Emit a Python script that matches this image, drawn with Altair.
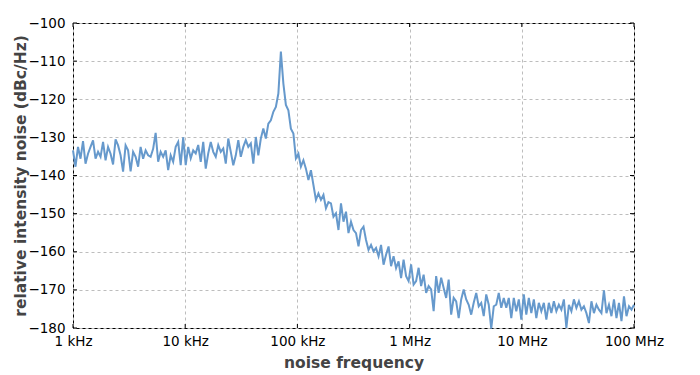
import altair as alt
import numpy as np
import pandas as pd

# relative intensity noise (dBc/Hz), one decade per list
rin_1k_10k = [-133.4, -137.7, -132.5, -135.6, -131.0, -136.9, -134.3, -132.5, -130.8, -135.6,
              -133.8, -135.1, -131.2, -136.0, -132.5, -134.3, -137.1, -130.5, -132.1, -134.7,
              -139.0, -132.1, -133.4, -138.9, -133.8, -135.1, -137.7, -132.5, -135.6, -133.4,
              -134.7, -135.1, -133.0, -128.8, -136.4, -133.8, -135.1, -133.4, -138.6, -134.7,
              -136.4, -132.5, -131.2, -137.3, -130.0]
rin_10k_100k = [-137.3, -132.5, -135.5, -133.4, -134.2, -132.0, -136.4, -131.2, -138.2, -134.2,
                -131.2, -133.8, -135.1, -132.0, -133.8, -132.9, -136.9, -130.3, -133.8, -137.3,
                -134.7, -130.7, -135.1, -132.5, -130.7, -132.5, -131.6, -136.9, -129.9, -134.7,
                -130.3, -127.7, -130.3, -126.4, -125.5, -123.3, -122.0, -118.5, -107.5, -115.9,
                -121.5, -122.9, -127.7, -129.0, -135.5]
rin_100k_1M = [-134.3, -137.7, -136.0, -138.2, -141.2, -138.6, -142.5, -146.4, -144.7, -146.4,
               -145.1, -148.6, -147.0, -147.3, -150.8, -149.9, -154.3, -147.3, -152.1, -149.5,
               -155.1, -152.1, -154.3, -155.1, -158.6, -154.3, -153.4, -156.9, -159.5, -158.2,
               -159.9, -159.0, -161.2, -158.2, -163.4, -160.8, -158.6, -163.8, -161.2, -164.3,
               -162.5, -166.9, -162.1, -166.4, -167.7]
rin_1M_10M = [-163.3, -168.6, -167.7, -164.2, -169.0, -166.0, -170.8, -169.0, -169.9, -175.6,
              -166.4, -170.8, -166.8, -169.5, -172.1, -167.3, -176.5, -172.1, -173.0, -177.4,
              -172.5, -169.9, -172.5, -173.9, -176.5, -173.4, -170.8, -174.3, -173.4, -176.9,
              -171.2, -173.9, -180.2, -174.3, -173.9, -170.8, -174.7, -172.1, -174.7, -172.1,
              -177.4, -172.1, -175.6, -172.5, -177.8]
rin_10M_100M = [-171.2, -176.5, -172.1, -176.1, -172.5, -177.4, -173.4, -175.6, -173.4, -177.8,
                -173.4, -176.1, -173.0, -175.6, -173.9, -175.2, -172.5, -180.0, -173.9, -175.6,
                -172.5, -174.7, -173.0, -175.2, -174.3, -176.1, -178.7, -173.0, -176.1, -173.9,
                -175.2, -176.1, -170.1, -176.1, -173.9, -176.9, -172.5, -177.4, -173.4, -178.2,
                -171.7, -176.9, -174.3, -175.2, -173.9]

rin_dbc = rin_1k_10k + rin_10k_100k + rin_100k_1M + rin_1M_10M + rin_10M_100M
# log-spaced frequency grid of the spectrum analyser, 1 kHz .. 100 MHz
freq_hz = np.logspace(3, 8, len(rin_dbc))

x_ticks = [1e3, 1e4, 1e5, 1e6, 1e7, 1e8]
x_tick_labels = ["1 kHz", "10 kHz", "100 kHz", "1 MHz", "10 MHz", "100 MHz"]
y_ticks = [-180, -170, -160, -150, -140, -130, -120, -110, -100]

df = pd.DataFrame({"freq": freq_hz, "rin": rin_dbc})
xt = pd.DataFrame({"freq": x_ticks})
yt = pd.DataFrame({"rin": y_ticks})

W, H = 561, 305
TL = 4

label_expr = ""
for v, lab in zip(x_ticks, x_tick_labels):
    label_expr += f"abs(datum.value - {v:g}) < {v * 0.01:g} ? '{lab}' : "
label_expr += "''"

xscale = alt.Scale(type="log", domain=[1e3, 1e8], nice=False)
yscale = alt.Scale(domain=[-180, -100], nice=False, zero=False)

grid_col = "#bdbdbd"
title_col = "#444444"

x_axis = alt.Axis(values=x_ticks, labelExpr=label_expr, title="noise frequency",
                  grid=True, gridDash=[3, 3], gridColor=grid_col, gridWidth=1,
                  ticks=False, domain=False, labelPadding=6,
                  labelFlush=False, labelOverlap=False,
                  labelFont="DejaVu Sans", labelFontSize=13.5, labelColor="black",
                  titleFont="DejaVu Sans", titleFontWeight="bold", titleFontSize=15.5,
                  titleColor=title_col,
                  titleX=W / 2, titleY=34, titleBaseline="middle", titleAlign="center")
y_axis = alt.Axis(values=y_ticks, format="d", title="relative intensity noise (dBc/Hz)",
                  grid=True, gridDash=[3, 3], gridColor=grid_col, gridWidth=1,
                  ticks=False, domain=False, labelPadding=8,
                  labelFlush=False, labelOverlap=False,
                  labelFont="DejaVu Sans", labelFontSize=13.5, labelColor="black",
                  titleFont="DejaVu Sans", titleFontWeight="bold", titleFontSize=15.5,
                  titleColor=title_col,
                  titleAngle=270, titleX=-53, titleY=H / 2,
                  titleBaseline="middle", titleAlign="center")

line = alt.Chart(df).mark_line(color="#6699cc", strokeWidth=2, clip=False).encode(
    x=alt.X("freq:Q", scale=xscale, axis=x_axis),
    y=alt.Y("rin:Q", scale=yscale, axis=y_axis),
)

left_ticks = alt.Chart(yt).mark_rule(color="black", strokeWidth=1).encode(
    y=alt.Y("rin:Q", scale=yscale, axis=y_axis), x=alt.value(0), x2=alt.value(TL))
right_ticks = alt.Chart(yt).mark_rule(color="black", strokeWidth=1).encode(
    y=alt.Y("rin:Q", scale=yscale, axis=y_axis), x=alt.value(W - TL), x2=alt.value(W))
top_ticks = alt.Chart(xt).mark_rule(color="black", strokeWidth=1).encode(
    x=alt.X("freq:Q", scale=xscale, axis=x_axis), y=alt.value(0), y2=alt.value(TL))
bottom_ticks = alt.Chart(xt).mark_rule(color="black", strokeWidth=1).encode(
    x=alt.X("freq:Q", scale=xscale, axis=x_axis), y=alt.value(H - TL), y2=alt.value(H))

chart = alt.layer(line, left_ticks, right_ticks, top_ticks, bottom_ticks).properties(
    width=W, height=H,
    autosize=alt.AutoSizeParams(type="none"),
    padding={"left": 73, "top": 23, "right": 66, "bottom": 47},
    background="white",
).configure_view(
    stroke="black", strokeWidth=1
)

chart.save("out.html", embed_options={"renderer": "svg", "actions": False})
